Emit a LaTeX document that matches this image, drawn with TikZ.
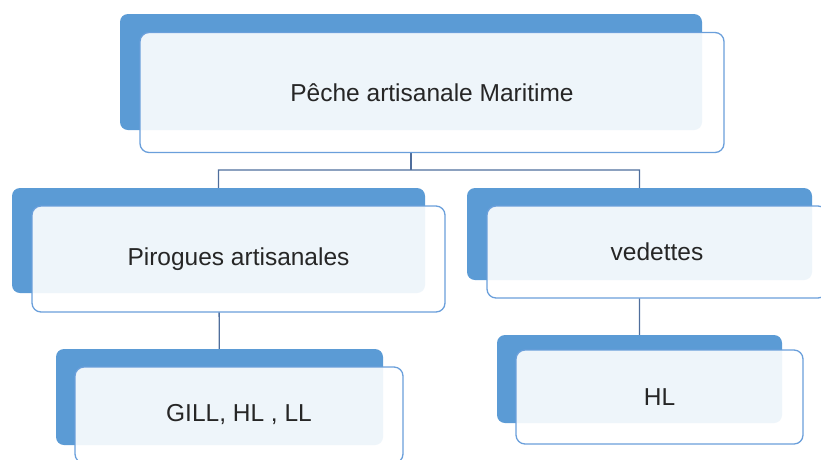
\documentclass[tikz,border=0pt]{standalone}
\usepackage{fontspec}
\setmainfont{Liberation Sans}
\definecolor{backblue}{HTML}{5B9BD5}
\definecolor{edgeblue}{HTML}{6A9FDB}
\definecolor{connblue}{HTML}{4F6E9C}
\definecolor{txt}{HTML}{262626}
\begin{document}
\begin{tikzpicture}[x=1pt,y=-1pt,
  backbox/.style={rectangle, rounded corners=8pt, fill=backblue, draw=none, inner sep=0pt},
  frontbox/.style={rectangle, rounded corners=9pt, fill=white, fill opacity=0.9, text opacity=1,
    draw=edgeblue, draw opacity=1, line width=1.3pt, inner sep=0pt, text=txt,
    font=\fontsize{24.5}{28}\selectfont},
  maskbox/.style={rectangle, rounded corners=9pt, fill=white, draw=none, inner sep=0pt},
  conn/.style={draw=connblue, line width=1.3pt}]
\useasboundingbox (0,0) rectangle (821,459);
% connectors (between centres of the back boxes)
\coordinate (topc) at (411,72);
\coordinate (leftc) at (218.5,240.5);
\coordinate (rightc) at (639.5,234);
\coordinate (gillc) at (219.5,397);
\coordinate (hlc) at (639.5,379);
\coordinate (bus) at (0,170);
\draw[conn] (topc) -- (topc |- bus);
\draw[conn] (gillc) -- (leftc |- bus) -- (rightc |- bus) -- (hlc);
% opaque masks hiding the connectors under the front boxes
\node[maskbox, minimum width=584pt, minimum height=120pt] (topm) at (432,92.5) {};
\node[maskbox, minimum width=413pt, minimum height=106pt] (leftm) at (238.5,259) {};
\node[maskbox, minimum width=340pt, minimum height=92pt] (rightm) at (657,252) {};
\node[maskbox, minimum width=328pt, minimum height=96pt] (gillm) at (239,415) {};
\node[maskbox, minimum width=287pt, minimum height=94pt] (hlm) at (659.5,397) {};
% back boxes
\node[backbox, minimum width=582pt, minimum height=116pt] (topb) at (topc) {};
\node[backbox, minimum width=413pt, minimum height=105pt] (leftb) at (leftc) {};
\node[backbox, minimum width=345pt, minimum height=92pt] (rightb) at (rightc) {};
\node[backbox, minimum width=327pt, minimum height=96pt] (gillb) at (gillc) {};
\node[backbox, minimum width=285pt, minimum height=88pt] (hlb) at (hlc) {};
% front boxes
\node[frontbox, minimum width=584pt, minimum height=120pt] (top) at (topm) {Pêche artisanale Maritime};
\node[frontbox, minimum width=413pt, minimum height=106pt] (left) at (leftm) {Pirogues artisanales};
\node[frontbox, minimum width=340pt, minimum height=92pt] (right) at (rightm) {vedettes};
\node[frontbox, minimum width=328pt, minimum height=96pt] (gill) at (gillm) {GILL, HL , LL};
\node[frontbox, minimum width=287pt, minimum height=94pt] (hl) at (hlm) {HL};
\end{tikzpicture}
\end{document}
